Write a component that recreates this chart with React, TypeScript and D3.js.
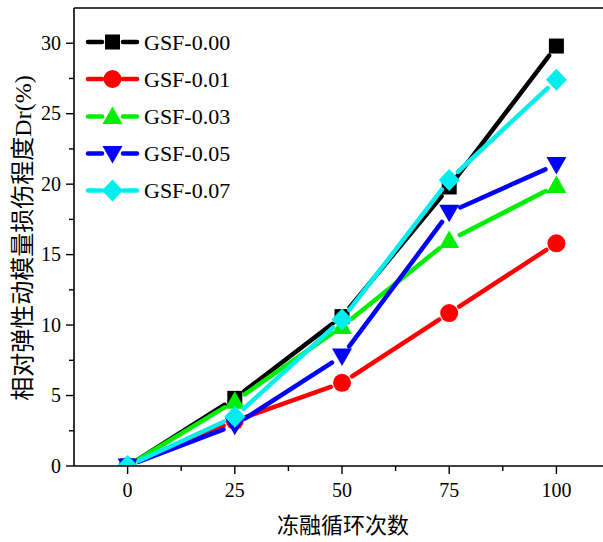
import React from "react";
import * as d3 from "d3";

const cycles = [0, 25, 50, 75, 100];
const seriesNames = ["GSF-0.00", "GSF-0.01", "GSF-0.03", "GSF-0.05", "GSF-0.07"];
const gsf000 = [0, 4.8, 10.6, 19.8, 29.8];
const gsf001 = [0, 3.2, 5.9, 10.85, 15.8];
const gsf003 = [0, 4.6, 9.9, 16.0, 19.9];
const gsf005 = [0, 2.9, 7.8, 18.0, 21.4];
const gsf007 = [0, 3.5, 10.4, 20.3, 27.4];
const seriesColors = ["#000000", "#ff0000", "#00ee00", "#0000ff", "#00eeee"];
const seriesMarkers = ["square", "circle", "triangleUp", "triangleDown", "diamond"];
const xTicks = [0, 25, 50, 75, 100];
const xMinor = [-12.5, 12.5, 37.5, 62.5, 87.5, 112.5];
const yTicks = [0, 5, 10, 15, 20, 25, 30];
const yMinor = [2.5, 7.5, 12.5, 17.5, 22.5, 27.5];
const xTitle = "冻融循环次数";
const yTitle = "相对弹性动模量损伤程度Dr(%)";

const W = 603, H = 542;
const L = 74, T = 8, B = 466, R = 610;

function Marker({ type, cx, cy, color }: { type: string; cx: number; cy: number; color: string }) {
  if (type === "square") return <rect x={cx - 7.5} y={cy - 7.5} width={15} height={15} fill={color} />;
  if (type === "circle") return <circle cx={cx} cy={cy} r={9} fill={color} />;
  if (type === "triangleUp")
    return <path d={`M${cx},${cy - 10}L${cx + 10},${cy + 7.5}L${cx - 10},${cy + 7.5}Z`} fill={color} />;
  if (type === "triangleDown")
    return <path d={`M${cx},${cy + 10}L${cx + 10},${cy - 7.5}L${cx - 10},${cy - 7.5}Z`} fill={color} />;
  return <path d={`M${cx},${cy - 11}L${cx + 10.5},${cy}L${cx},${cy + 11}L${cx - 10.5},${cy}Z`} fill={color} />;
}

export default function App() {
  const data = [gsf000, gsf001, gsf003, gsf005, gsf007];
  const x = d3.scaleLinear().domain([-12.5, 112.5]).range([L, R]);
  const y = d3.scaleLinear().domain([0, 32.5]).range([B, T]);
  const gap = 12;
  const serif = "'Liberation Serif', 'Times New Roman', serif";
  const cjk = "'Noto Sans CJK SC', sans-serif";

  const segs = (vals: number[]) => {
    const out: { x1: number; y1: number; x2: number; y2: number }[] = [];
    for (let i = 0; i < vals.length - 1; i++) {
      const ax = x(cycles[i]), ay = y(vals[i]);
      const bx = x(cycles[i + 1]), by = y(vals[i + 1]);
      const dx = bx - ax, dy = by - ay;
      const len = Math.hypot(dx, dy);
      if (len <= 2 * gap) continue;
      const ux = dx / len, uy = dy / len;
      out.push({ x1: ax + ux * gap, y1: ay + uy * gap, x2: bx - ux * gap, y2: by - uy * gap });
    }
    return out;
  };

  const legendY = [42, 79, 116.5, 153.5, 190.5];

  return (
    <svg width={W} height={H} style={{ position: "absolute", left: 0, top: 0, background: "#fff" }}>
      <defs>
        <clipPath id="plotclip">
          <rect x={L} y={T} width={R - L} height={B - T} />
        </clipPath>
      </defs>
      <rect x={0} y={0} width={W} height={H} fill="#fff" />
      <g clipPath="url(#plotclip)">
        {data.map((vals, si) => (
          <g key={si}>
            {segs(vals).map((s, i) => (
              <line key={i} x1={s.x1} y1={s.y1} x2={s.x2} y2={s.y2} stroke={seriesColors[si]} strokeWidth={4.5} strokeLinecap="round" />
            ))}
            {vals.map((v, i) => (
              <Marker key={i} type={seriesMarkers[si]} cx={x(cycles[i])} cy={y(v)} color={seriesColors[si]} />
            ))}
          </g>
        ))}
      </g>
      {/* frame */}
      <line x1={L} y1={T} x2={W} y2={T} stroke="#000" strokeWidth={1.6} />
      <line x1={L} y1={T} x2={L} y2={B} stroke="#000" strokeWidth={1.6} />
      <line x1={L} y1={B} x2={W} y2={B} stroke="#000" strokeWidth={1.6} />
      {/* x ticks */}
      {xTicks.map((t) => (
        <g key={t}>
          <line x1={x(t)} y1={B} x2={x(t)} y2={B + 8} stroke="#000" strokeWidth={1.4} />
          <text x={x(t)} y={497} textAnchor="middle" fontFamily={serif} fontSize={20}>{t}</text>
        </g>
      ))}
      {xMinor.filter((t) => x(t) > L && x(t) < W).map((t) => (
        <line key={t} x1={x(t)} y1={B} x2={x(t)} y2={B + 5} stroke="#000" strokeWidth={1.4} />
      ))}
      {/* y ticks */}
      {yTicks.map((t) => (
        <g key={t}>
          <line x1={L - 8} y1={y(t)} x2={L} y2={y(t)} stroke="#000" strokeWidth={1.4} />
          <text x={61} y={y(t) + 6.5} textAnchor="end" fontFamily={serif} fontSize={20}>{t}</text>
        </g>
      ))}
      {yMinor.map((t) => (
        <line key={t} x1={L - 5} y1={y(t)} x2={L} y2={y(t)} stroke="#000" strokeWidth={1.4} />
      ))}
      {/* titles */}
      <text x={343} y={533} textAnchor="middle" fontFamily={cjk} fontSize={22}>{xTitle}</text>
      <text transform="translate(31,238) rotate(-90)" textAnchor="middle" fontFamily={cjk} fontSize={24}>
        {yTitle.slice(0, 11)}
        <tspan fontFamily={serif}>{yTitle.slice(11)}</tspan>
      </text>
      {/* legend */}
      {seriesNames.map((n, i) => (
        <g key={n}>
          <line x1={88} y1={legendY[i]} x2={102} y2={legendY[i]} stroke={seriesColors[i]} strokeWidth={4.5} strokeLinecap="round" />
          <line x1={123} y1={legendY[i]} x2={137} y2={legendY[i]} stroke={seriesColors[i]} strokeWidth={4.5} strokeLinecap="round" />
          <Marker type={seriesMarkers[i]} cx={112.5} cy={legendY[i]} color={seriesColors[i]} />
          <text x={144} y={legendY[i] + 7.5} fontFamily={serif} fontSize={22}>{n}</text>
        </g>
      ))}
    </svg>
  );
}
